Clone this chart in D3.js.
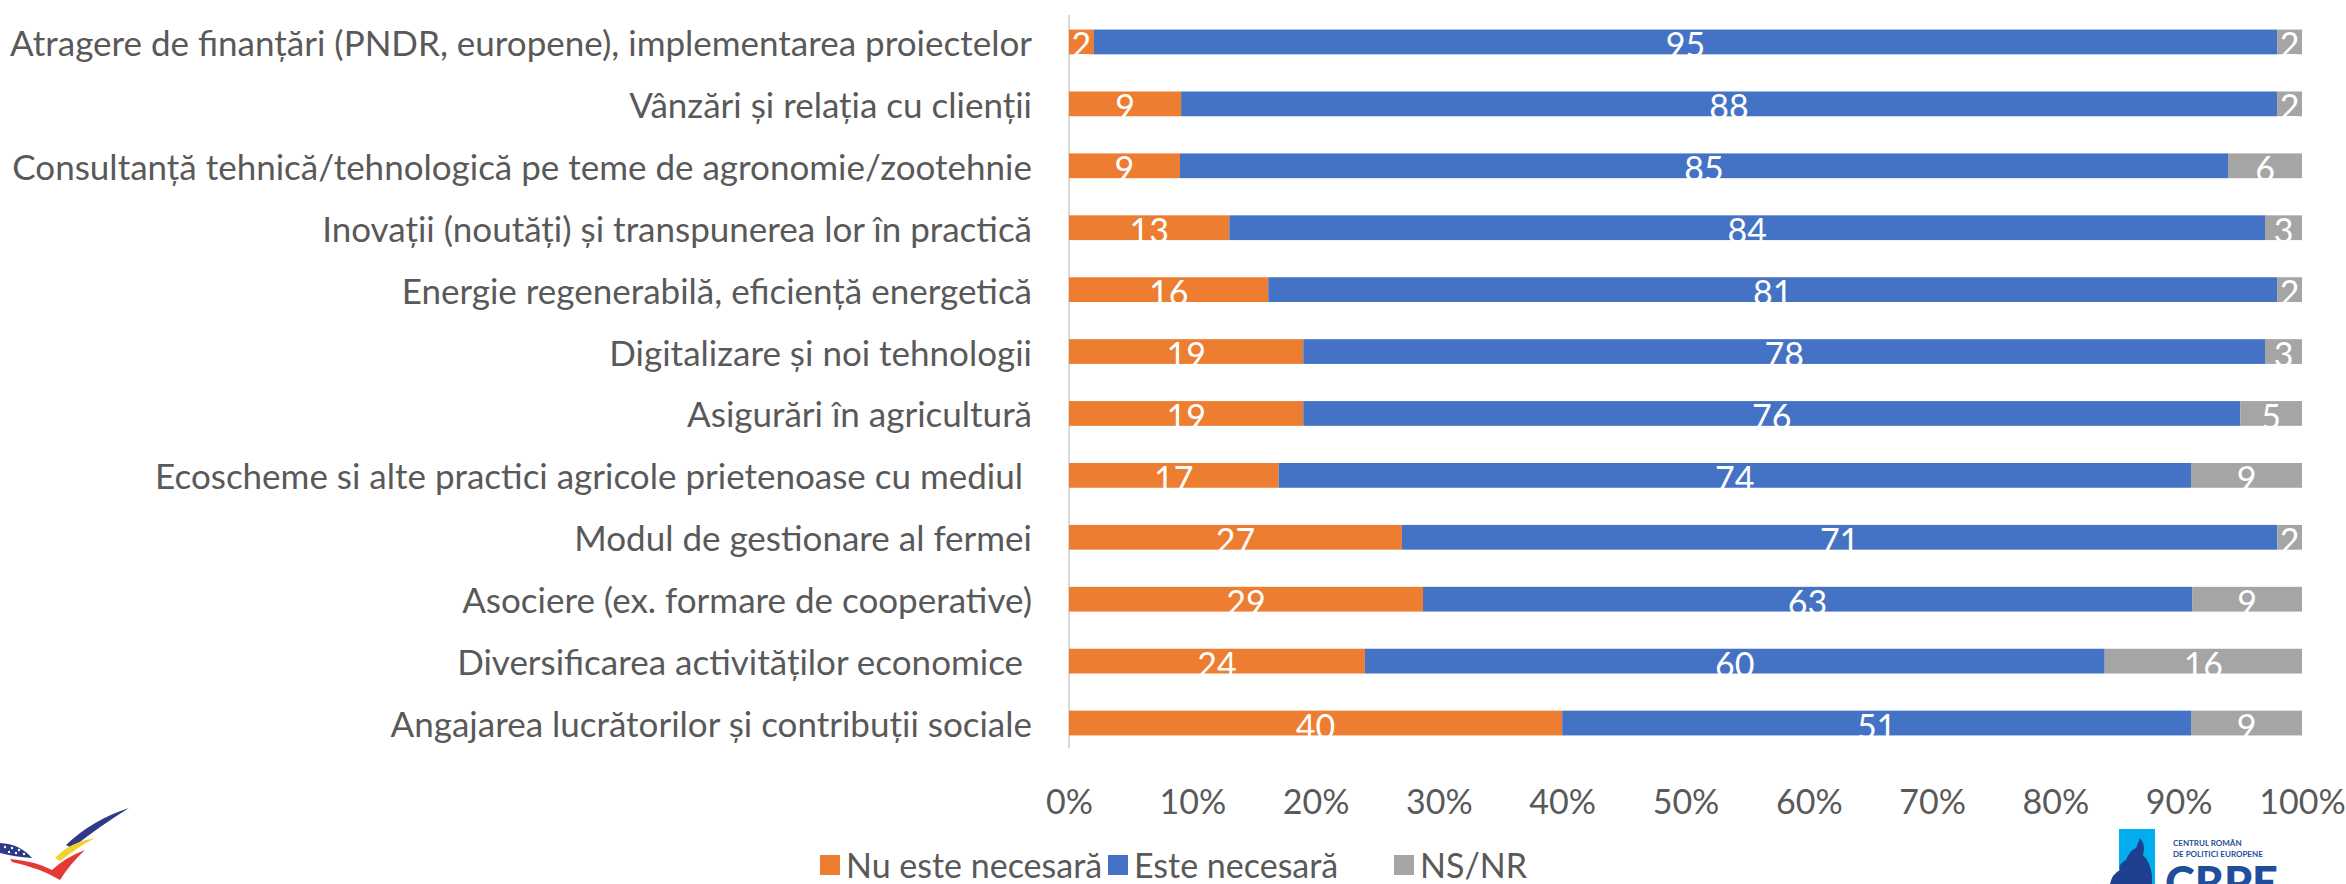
<!DOCTYPE html>
<html lang="ro">
  <head>
    <meta charset="UTF-8" />
    <title>Nevoi de consultanță</title>
    <style>
      body { margin: 0; background: #fff; }
      svg { display: block; font-family: Lato, "Open Sans", sans-serif; }
    </style>
  </head>
  <body>
    <svg width="2346" height="884"></svg>
    <script src="https://cdn.jsdelivr.net/npm/d3@7"></script>
    <script>
      // categories, top to bottom
      var categories = [
        "Atragere de finanțări (PNDR, europene), implementarea proiectelor",
        "Vânzări și relația cu clienții",
        "Consultanță tehnică/tehnologică pe teme de agronomie/zootehnie",
        "Inovații (noutăți) și transpunerea lor în practică",
        "Energie regenerabilă, eficiență energetică",
        "Digitalizare și noi tehnologii",
        "Asigurări în agricultură",
        "Ecoscheme si alte practici agricole prietenoase cu mediul ",
        "Modul de gestionare al fermei",
        "Asociere (ex. formare de cooperative)",
        "Diversificarea activităților economice ",
        "Angajarea lucrătorilor și contribuții sociale"
      ];
      var nuEsteNecesara = [2, 9, 9, 13, 16, 19, 19, 17, 27, 29, 24, 40];
      var esteNecesara = [95, 88, 85, 84, 81, 78, 76, 74, 71, 63, 60, 51];
      var nsNr = [2, 2, 6, 3, 2, 3, 5, 9, 2, 9, 16, 9];
      var seriesNames = ["Nu este necesară", "Este necesară", "NS/NR"];
      var seriesColors = ["#ED7D31", "#4472C4", "#A5A5A5"];
      var tickValues = [0, 0.1, 0.2, 0.3, 0.4, 0.5, 0.6, 0.7, 0.8, 0.9, 1];

      var svg = d3.select("svg");
      var plotLeft = 1069, plotRight = 2302, plotTop = 11, plotBottom = 754;
      var fs = 34;

      var rows = categories.map(function (c, i) {
        return { cat: c, v0: nuEsteNecesara[i], v1: esteNecesara[i], v2: nsNr[i] };
      });
      // 100% stacked: normalise each row
      var stack = d3.stack().keys(["v0", "v1", "v2"]).offset(d3.stackOffsetExpand);
      var stacked = stack(rows);

      var x = d3.scaleLinear().domain([0, 1]).range([plotLeft, plotRight]);
      var y = d3.scaleBand().domain(categories).range([plotTop, plotBottom]).paddingInner(0.6).paddingOuter(0.3);

      // vertical axis line
      svg.append("line")
        .attr("x1", plotLeft).attr("x2", plotLeft)
        .attr("y1", plotTop + 4).attr("y2", plotBottom - 6)
        .attr("stroke", "#D9D9D9").attr("stroke-width", 2);

      var groups = svg.append("g").selectAll("g")
        .data(stacked)
        .enter().append("g")
        .attr("fill", function (d, i) { return seriesColors[i]; });

      groups.selectAll("rect")
        .data(function (d) { return d; })
        .enter().append("rect")
        .attr("x", function (d) { return x(d[0]); })
        .attr("y", function (d) { return y(d.data.cat); })
        .attr("width", function (d) { return x(d[1]) - x(d[0]); })
        .attr("height", y.bandwidth());

      groups.each(function (s) {
        d3.select(this).selectAll("text")
          .data(s)
          .enter().append("text")
          .attr("x", function (d) { return (x(d[0]) + x(d[1])) / 2; })
          .attr("y", function (d) { return y(d.data.cat) + y.bandwidth() / 2 + 2; })
          .attr("text-anchor", "middle")
          .attr("dominant-baseline", "central")
          .attr("fill", "#fff")
          .attr("font-size", fs)
          .text(function (d) { return d.data[s.key]; });
      });

      // category labels
      svg.append("g").selectAll("text")
        .data(categories)
        .enter().append("text")
        .attr("x", 1032)
        .attr("y", function (d) { return y(d) + y.bandwidth() / 2; })
        .attr("text-anchor", "end")
        .attr("dominant-baseline", "central")
        .attr("fill", "#595959")
        .attr("font-size", 35)
        .style("white-space", "pre")
        .text(function (d) { return d; });

      // x axis
      var xAxis = svg.append("g")
        .attr("transform", "translate(0," + 787 + ")")
        .call(d3.axisBottom(x).tickValues(tickValues).tickSize(0).tickFormat(d3.format(".0%")));
      xAxis.select(".domain").remove();
      xAxis.selectAll("text")
        .attr("fill", "#595959")
        .attr("font-size", fs)
        .attr("font-family", "Lato, sans-serif");

      // legend
      var legendX = [820, 1108, 1394];
      var legend = svg.append("g").selectAll("g")
        .data(seriesNames)
        .enter().append("g")
        .attr("transform", function (d, i) { return "translate(" + legendX[i] + ",864)"; });
      legend.append("rect")
        .attr("x", 0).attr("y", -9).attr("width", 20).attr("height", 20)
        .attr("fill", function (d, i) { return seriesColors[i]; });
      legend.append("text")
        .attr("x", 26).attr("y", 0)
        .attr("dominant-baseline", "central")
        .attr("fill", "#595959")
        .attr("font-size", fs)
        .text(function (d) { return d; });

      // left logo (bird)
      var logo = svg.append("g");
      logo.append("path").attr("d", "M0,843 Q20,844 32,858 Q15,857 0,853 Z").attr("fill", "#2E3A87");
      [[5,847],[12,848],[19,850],[9,852],[16,853],[24,854]].forEach(function (p) {
        logo.append("circle").attr("cx", p[0]).attr("cy", p[1]).attr("r", 1.2).attr("fill", "#fff");
      });
      logo.append("path").attr("d", "M66,845 Q92,820 129,808 Q100,826 72,848 Z").attr("fill", "#2E3A87");
      logo.append("path").attr("d", "M55,858 Q70,842 95,838 Q78,847 60,861 Z").attr("fill", "#F5D130");
      logo.append("path").attr("d", "M10,859 Q35,861 52,870 Q66,857 85,850 Q70,864 60,880 Q40,868 12,862 Z").attr("fill", "#E53935");

      // right logo (CRPE)
      var crpe = svg.append("g");
      crpe.append("rect").attr("x", 2119).attr("y", 829).attr("width", 36).attr("height", 55).attr("fill", "#00AEEF");
      crpe.append("path")
        .attr("d", "M2140,838 Q2146,845 2143,855 Q2150,862 2152,875 L2152,884 L2110,884 Q2112,874 2120,870 Q2118,864 2126,860 Q2130,850 2136,848 Z")
        .attr("fill", "#1F3F8F");
      crpe.append("text").attr("x", 2173).attr("y", 846).attr("font-size", 8).attr("font-weight", 700)
        .attr("fill", "#1F4E9A").text("CENTRUL ROMÂN");
      crpe.append("text").attr("x", 2173).attr("y", 857).attr("font-size", 8).attr("font-weight", 700)
        .attr("fill", "#1F4E9A").text("DE POLITICI EUROPENE");
      crpe.append("text").attr("x", 2165).attr("y", 899).attr("font-size", 45).attr("font-weight", 900)
        .attr("fill", "#1F4E9A").text("CRPE");
    </script>
  </body>
</html>
